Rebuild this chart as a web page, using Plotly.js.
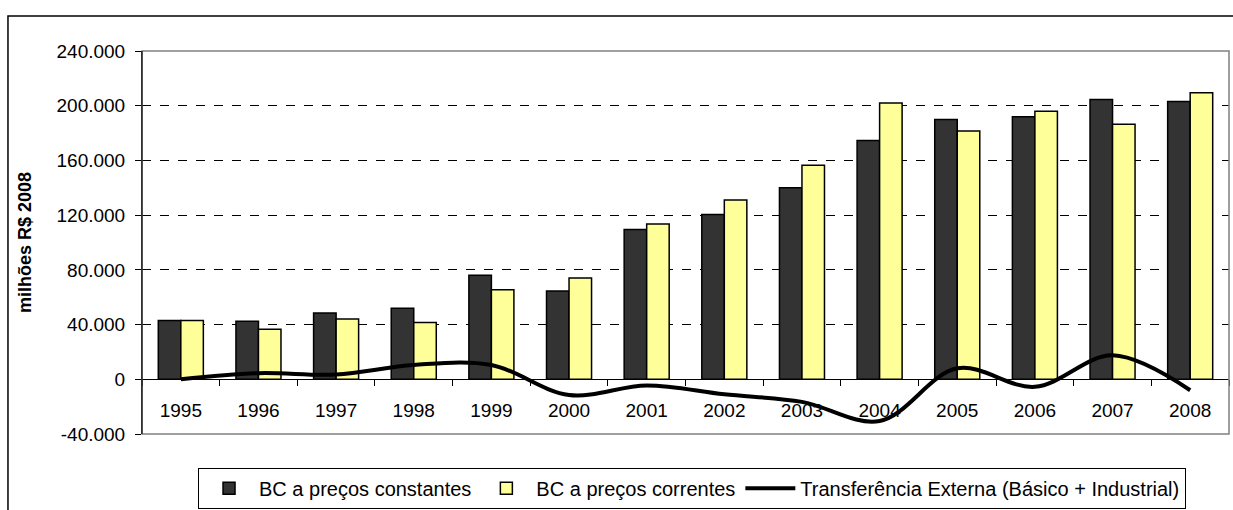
<!DOCTYPE html>
<html>
<head>
<meta charset="utf-8">
<script src="https://cdn.plot.ly/plotly-3.0.1.min.js"></script>
<style>
  html, body { margin: 0; padding: 0; background: #ffffff; }
  #chart_div { width: 1233px; height: 510px; }
</style>
</head>
<body>
<div id="chart_div"></div>
<script>
// values (milhões R$ 2008)
var years = ['1995', '1996', '1997', '1998', '1999', '2000', '2001',
             '2002', '2003', '2004', '2005', '2006', '2007', '2008'];
var bc_constantes = [43000, 42500, 48500, 52000, 76000, 64500, 109500,
                     120500, 140000, 174500, 190000, 192000, 204500, 203000];
var bc_correntes = [43000, 36500, 44000, 41500, 65500, 74000, 113500,
                    131000, 156500, 202000, 181500, 196000, 186500, 209500];
var transferencia = [0, 4500, 3500, 10500, 10500, -11500, -4500,
                     -11000, -16500, -30500, 8000, -5500, 17500, -8000];
var y_tick_vals = [-40000, 0, 40000, 80000, 120000, 160000, 200000, 240000];
var y_tick_text = ['-40.000', '0', '40.000', '80.000', '120.000', '160.000', '200.000', '240.000'];

function plot_chart()
{
    var font_name = 'Liberation Sans, Arial, sans-serif';

    var trace_constantes = {
        type: 'bar',
        x: years,
        y: bc_constantes,
        name: 'BC a preços constantes',
        marker: {
            color: '#333333',
            line: { color: '#000000', width: 1.5 }
        },
        hoverinfo: 'skip'
    };

    var trace_correntes = {
        type: 'bar',
        x: years,
        y: bc_correntes,
        name: 'BC a preços correntes',
        marker: {
            color: '#FFFF99',
            line: { color: '#000000', width: 1.5 }
        },
        hoverinfo: 'skip'
    };

    var trace_transf = {
        type: 'scatter',
        mode: 'lines',
        x: years,
        y: transferencia,
        name: 'Transferência Externa (Básico + Industrial)',
        line: { color: '#000000', width: 4, shape: 'spline', smoothing: 1 },
        hoverinfo: 'skip'
    };

    var layout = {
        width: 1233,
        height: 510,
        paper_bgcolor: '#ffffff',
        plot_bgcolor: '#ffffff',
        font: { family: font_name, size: 19, color: '#000000' },
        margin: { l: 142, r: 4, t: 51, b: 76, autoexpand: false },
        barmode: 'group',
        bargap: 0.42,
        bargroupgap: 0,
        showlegend: true,
        legend: {
            orientation: 'h',
            x: 0.506,
            xanchor: 'center',
            y: -0.088,
            yanchor: 'top',
            itemwidth: 50,
            bordercolor: '#000000',
            borderwidth: 1,
            font: { family: font_name, size: 20, color: '#000000' },
            traceorder: 'normal'
        },
        xaxis: {
            type: 'category',
            anchor: 'free',
            position: 0.1436,
            showline: true,
            linecolor: '#000000',
            linewidth: 1,
            ticks: 'outside',
            tickson: 'boundaries',
            ticklen: 6,
            tickcolor: '#000000',
            showgrid: false,
            ticklabelstandoff: 14,
            tickfont: { family: font_name, size: 19, color: '#000000' }
        },
        yaxis: {
            range: [-40000, 240000],
            tickvals: y_tick_vals,
            ticktext: y_tick_text,
            showline: true,
            linecolor: '#000000',
            linewidth: 1,
            ticks: 'outside',
            ticklen: 6,
            tickcolor: '#000000',
            ticklabelstandoff: 6,
            showgrid: true,
            gridcolor: '#000000',
            gridwidth: 1,
            griddash: 'dash',
            zeroline: true,
            zerolinecolor: '#000000',
            zerolinewidth: 1,
            tickfont: { family: font_name, size: 19, color: '#000000' },
            title: {
                text: '<b>milhões R$ 2008</b>',
                standoff: 20,
                font: { family: font_name, size: 18, color: '#000000' }
            }
        },
        shapes: [
            {
                // plot area frame
                type: 'rect',
                xref: 'paper', yref: 'paper',
                x0: 0, x1: 1, y0: 0, y1: 1,
                layer: 'above',
                line: { color: '#808080', width: 1.5 }
            },
            {
                // left axis stays black over the frame
                type: 'line',
                xref: 'paper', yref: 'paper',
                x0: 0, x1: 0, y0: 0, y1: 1,
                layer: 'above',
                line: { color: '#000000', width: 1 }
            },
            {
                // outer chart border
                type: 'rect',
                xref: 'paper', yref: 'paper',
                x0: -0.1233, x1: 1.02, y0: -0.22, y1: 1.0914,
                layer: 'below',
                line: { color: '#000000', width: 1.5 }
            }
        ]
    };

    Plotly.newPlot('chart_div', [trace_constantes, trace_correntes, trace_transf], layout,
                   { staticPlot: true, displayModeBar: false });
}

plot_chart();
</script>
</body>
</html>
